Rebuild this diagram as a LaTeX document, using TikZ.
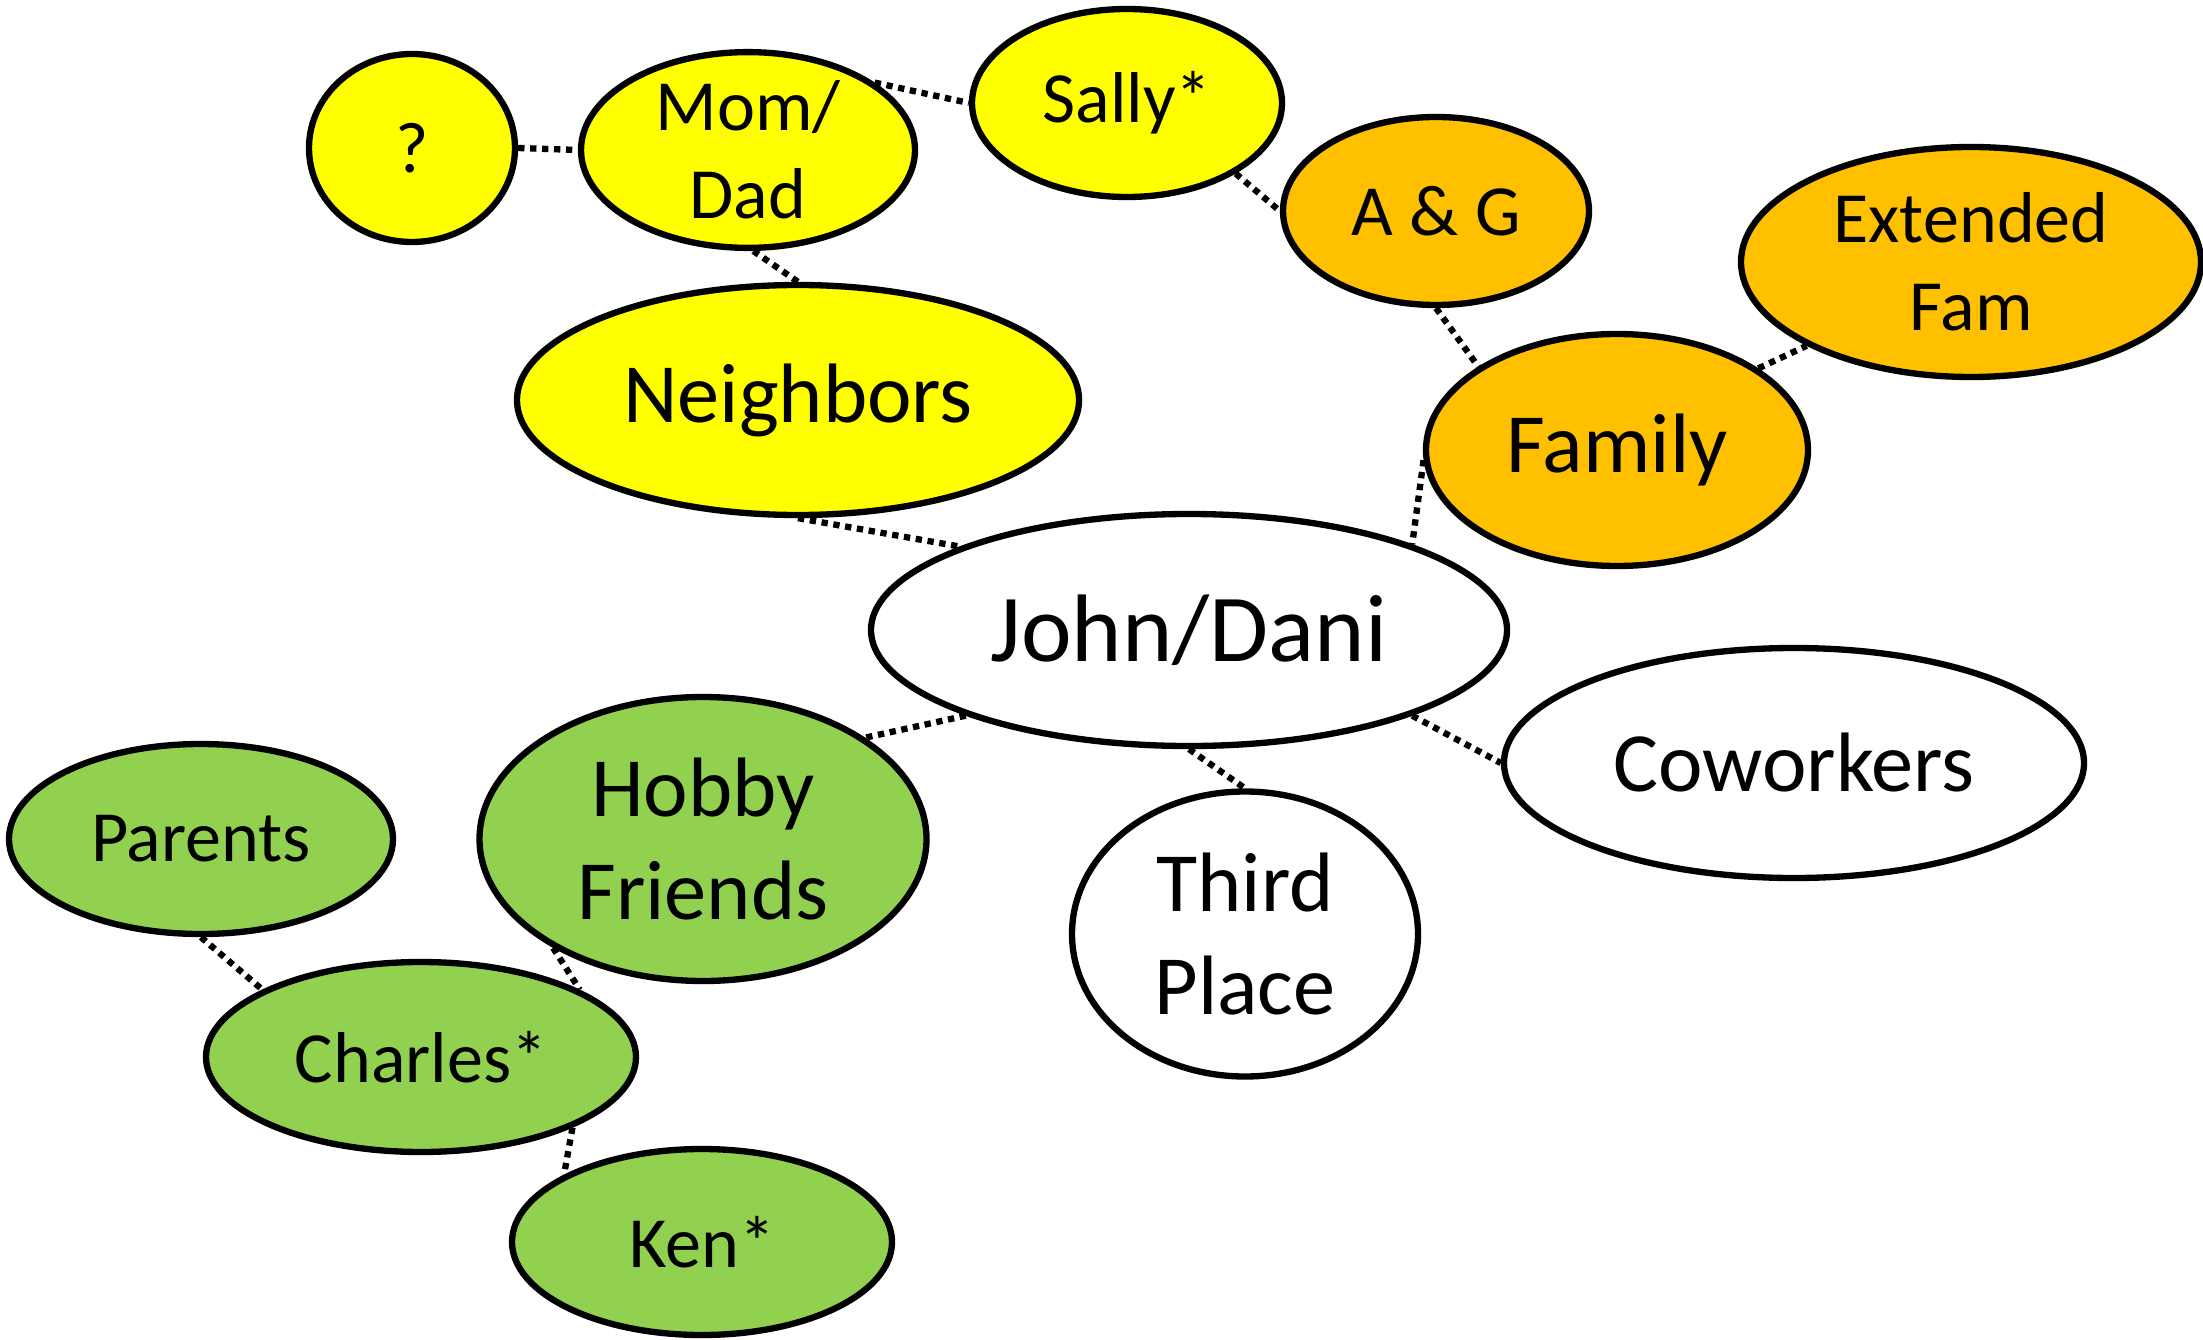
\documentclass[tikz,border=0pt]{standalone}
\usepackage{fontspec}
\setmainfont{Carlito}
\usetikzlibrary{shapes.geometric}
\definecolor{bubbleyellow}{HTML}{FFFF00}
\definecolor{bubbleorange}{HTML}{FFC000}
\definecolor{bubblegreen}{HTML}{92D050}
\tikzset{
	bubble/.style={ellipse, draw=black, line width=1.8pt, inner sep=0pt, align=center},
	smalltext/.style={font=\fontsize{20.5}{25}\selectfont},
	bigtext/.style={font=\fontsize{24}{29.3}\selectfont},
	link/.style={line width=1.8pt, dash pattern=on 1.8pt off 1.6pt},
}
\begin{document}
\begin{tikzpicture}
			%%%%% START %%%%%
			\useasboundingbox (0, 0) rectangle (22.03, -13.40);
			
			\node[bubble, smalltext, fill=bubbleyellow, minimum width=2.06cm, minimum height=1.88cm] (q) at (4.12, -1.48) {?};
			\node[bubble, smalltext, fill=bubbleyellow, minimum width=3.34cm, minimum height=1.9cm] (momdad) at (7.48, -1.50) {Mom/\\Dad};
			\node[bubble, smalltext, fill=bubbleyellow, minimum width=3.1cm, minimum height=1.88cm] (sally) at (11.27, -1.03) {Sally*};
			\node[bubble, bigtext, fill=bubbleyellow, minimum width=5.62cm, minimum height=2.3cm] (neighbors) at (7.98, -4.00) {Neighbors};
			
			\node[bubble, smalltext, fill=bubbleorange, minimum width=3.06cm, minimum height=1.88cm] (ag) at (14.36, -2.11) {A \& G};
			\node[bubble, smalltext, fill=bubbleorange, minimum width=4.6cm, minimum height=2.3cm] (extfam) at (19.71, -2.62) {Extended\\Fam};
			\node[bubble, bigtext, fill=bubbleorange, minimum width=3.82cm, minimum height=2.32cm] (family) at (16.17, -4.50) {Family};
			
			\node[bubble, font=\fontsize{27.3}{33}\selectfont, fill=white, minimum width=6.36cm, minimum height=2.32cm] (john) at (11.89, -6.30) {John/Dani};
			\node[bubble, bigtext, fill=white, minimum width=5.8cm, minimum height=2.3cm] (coworkers) at (17.94, -7.63) {Coworkers};
			\node[bubble, bigtext, fill=white, minimum width=3.46cm, minimum height=2.85cm] (third) at (12.45, -9.34) {Third\\Place};
			
			\node[bubble, bigtext, fill=bubblegreen, minimum width=4.47cm, minimum height=2.84cm] (hobby) at (7.03, -8.39) {Hobby\\Friends};
			\node[bubble, smalltext, fill=bubblegreen, minimum width=3.84cm, minimum height=1.9cm] (parents) at (2.01, -8.39) {Parents};
			\node[bubble, smalltext, fill=bubblegreen, minimum width=4.3cm, minimum height=1.9cm] (charles) at (4.21, -10.57) {Charles*};
			\node[bubble, smalltext, fill=bubblegreen, minimum width=3.8cm, minimum height=1.86cm] (ken) at (7.02, -12.42) {Ken*};
			
			\draw[link] (q.0) -- (momdad.180);
			\draw[link] (momdad.28) -- (sally.180);
			\draw[link] (momdad.-87) -- (neighbors.90);
			\draw[link] (sally.-33) -- (ag.180);
			\draw[link] (ag.-90) -- (family.149);
			\draw[link] (family.30) -- (extfam.207);
			\draw[link] (family.183) -- (john.21);
			\draw[link] (neighbors.-90) -- (john.160);
			\draw[link] (john.201) -- (hobby.32);
			\draw[link] (john.-90) -- (third.90);
			\draw[link] (john.-21) -- (coworkers.180);
			\draw[link] (hobby.216) -- (charles.23);
			\draw[link] (parents.-90) -- (charles.157);
			\draw[link] (charles.-25) -- (ken.154);
			
			%%%%% END %%%%%
\end{tikzpicture}
\end{document}
